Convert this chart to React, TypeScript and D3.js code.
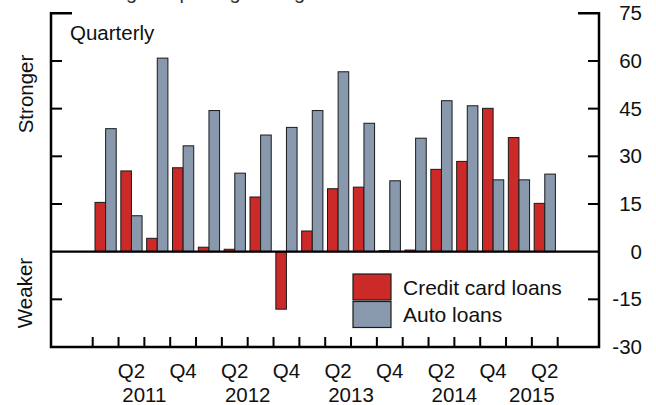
import * as d3 from "d3";

// quarterly survey: net % of banks reporting stronger demand
const quarters = [
  "2011Q1", "2011Q2", "2011Q3", "2011Q4",
  "2012Q1", "2012Q2", "2012Q3", "2012Q4",
  "2013Q1", "2013Q2", "2013Q3", "2013Q4",
  "2014Q1", "2014Q2", "2014Q3", "2014Q4",
  "2015Q1", "2015Q2",
];
const creditCard = [15.5, 25.4, 4.2, 26.4, 1.4, 0.75, 17.2, -18.1, 6.5, 19.8, 20.3, 0.3, 0.5, 25.9, 28.4, 45.1, 35.9, 15.2];
const autoLoans = [38.7, 11.3, 60.9, 33.3, 44.4, 24.7, 36.7, 39.1, 44.4, 56.6, 40.4, 22.3, 35.7, 47.5, 45.9, 22.6, 22.6, 24.4];
const yTicks = [75, 60, 45, 30, 15, 0, -15, -30];
const series = ["Credit card loans", "Auto loans"];
const colors = ["#cc2929", "#8898ad"];

const W = 656;
const H = 405;
const frame = { left: 51, right: 599, top: 13.3, bottom: 347 };
const FONT = "'Liberation Sans', Arial, Helvetica, sans-serif";
const FS = 20.5;

export default function App() {
  const y = d3.scaleLinear().domain([-30, 75]).range([frame.bottom, frame.top]);
  const x = d3.scaleBand<string>().domain(quarters).range([92.7, 557.7]).padding(0);
  const bw = x.bandwidth();
  const inner = d3.scaleBand<string>().domain(series).range([2.3, bw - 2.3]).padding(0);

  const rows = quarters.map((q, i) => ({ q, vals: [creditCard[i], autoLoans[i]] }));

  // tick boundaries between quarters
  const bounds = quarters.map((q) => x(q)!).concat([x(quarters[quarters.length - 1])! + bw]);

  // labels for Q2 / Q4, years centred on their quarters
  const qLabels = quarters.filter((q) => q.endsWith("Q2") || q.endsWith("Q4"));
  const years = Array.from(new Set(quarters.map((q) => q.slice(0, 4))));
  const yearCenter = (yr: string) =>
    d3.mean(quarters.filter((q) => q.startsWith(yr)), (q) => x(q)! + bw / 2)!;

  const innerTicks = yTicks.filter((t) => t !== 75 && t !== 0 && t !== -30);

  return (
    <svg width={W} height={H} style={{ display: "block", fontFamily: FONT }}>
      <style>{`body{margin:0}`}</style>
      <rect width={W} height={H} fill="#fff" />

      {/* title, cut off above the top edge */}
      <text x={300} y={-1} textAnchor="middle" fontSize={20} fill="#333">
        Net Percentage Reporting Stronger Demand for Consumer Loans
      </text>

      {/* bars */}
      {rows.map((r) =>
        r.vals.map((v, j) => (
          <rect
            key={r.q + j}
            x={x(r.q)! + inner(series[j])!}
            y={y(Math.max(0, v))}
            width={inner.bandwidth()}
            height={Math.abs(y(v) - y(0))}
            fill={colors[j]}
            stroke="#1a1a1a"
            strokeWidth={1}
          />
        ))
      )}

      {/* zero line */}
      <line x1={frame.left} x2={frame.right} y1={y(0)} y2={y(0)} stroke="#000" strokeWidth={2.2} />

      {/* frame: brackets at top, full bottom line */}
      <path
        d={`M${frame.left + 21},${y(75)} H${frame.left} V${y(-30)} H${frame.right} V${y(75)} H${frame.right - 21}`}
        fill="none"
        stroke="#000"
        strokeWidth={2.5}
      />
      {innerTicks.map((t) => (
        <g key={t}>
          <line x1={frame.left} x2={frame.left + 11} y1={y(t)} y2={y(t)} stroke="#000" strokeWidth={2} />
          <line x1={frame.right} x2={frame.right - 11} y1={y(t)} y2={y(t)} stroke="#000" strokeWidth={2} />
        </g>
      ))}
      {bounds.map((b, i) => (
        <line key={i} x1={b} x2={b} y1={frame.bottom} y2={frame.bottom - 10} stroke="#000" strokeWidth={2} />
      ))}

      {/* right axis labels */}
      {yTicks.map((t) => (
        <text key={t} x={642} y={y(t) + 7} textAnchor="end" fontSize={FS} fill="#111">
          {t}
        </text>
      ))}

      {/* x labels */}
      {qLabels.map((q) => (
        <text key={q} x={x(q)! + bw / 2} y={378} textAnchor="middle" fontSize={FS} fill="#111">
          {q.slice(4)}
        </text>
      ))}
      {years.map((yr) => (
        <text key={yr} x={yearCenter(yr)} y={402} textAnchor="middle" fontSize={FS} fill="#111">
          {yr}
        </text>
      ))}

      {/* side labels */}
      <text transform={`translate(33,94) rotate(-90)`} textAnchor="middle" fontSize={FS} fill="#111">
        Stronger
      </text>
      <text transform={`translate(32,293) rotate(-90)`} textAnchor="middle" fontSize={FS} fill="#111">
        Weaker
      </text>

      <text x={70} y={40} fontSize={FS} fill="#111">
        Quarterly
      </text>

      {/* legend */}
      {series.map((s, j) => (
        <g key={s} transform={`translate(353,${274 + j * 27.5})`}>
          <rect width={38} height={26} fill={colors[j]} stroke="#1a1a1a" strokeWidth={1.2} />
          <text x={50} y={20.5} fontSize={21} fill="#111">
            {s}
          </text>
        </g>
      ))}
    </svg>
  );
}
